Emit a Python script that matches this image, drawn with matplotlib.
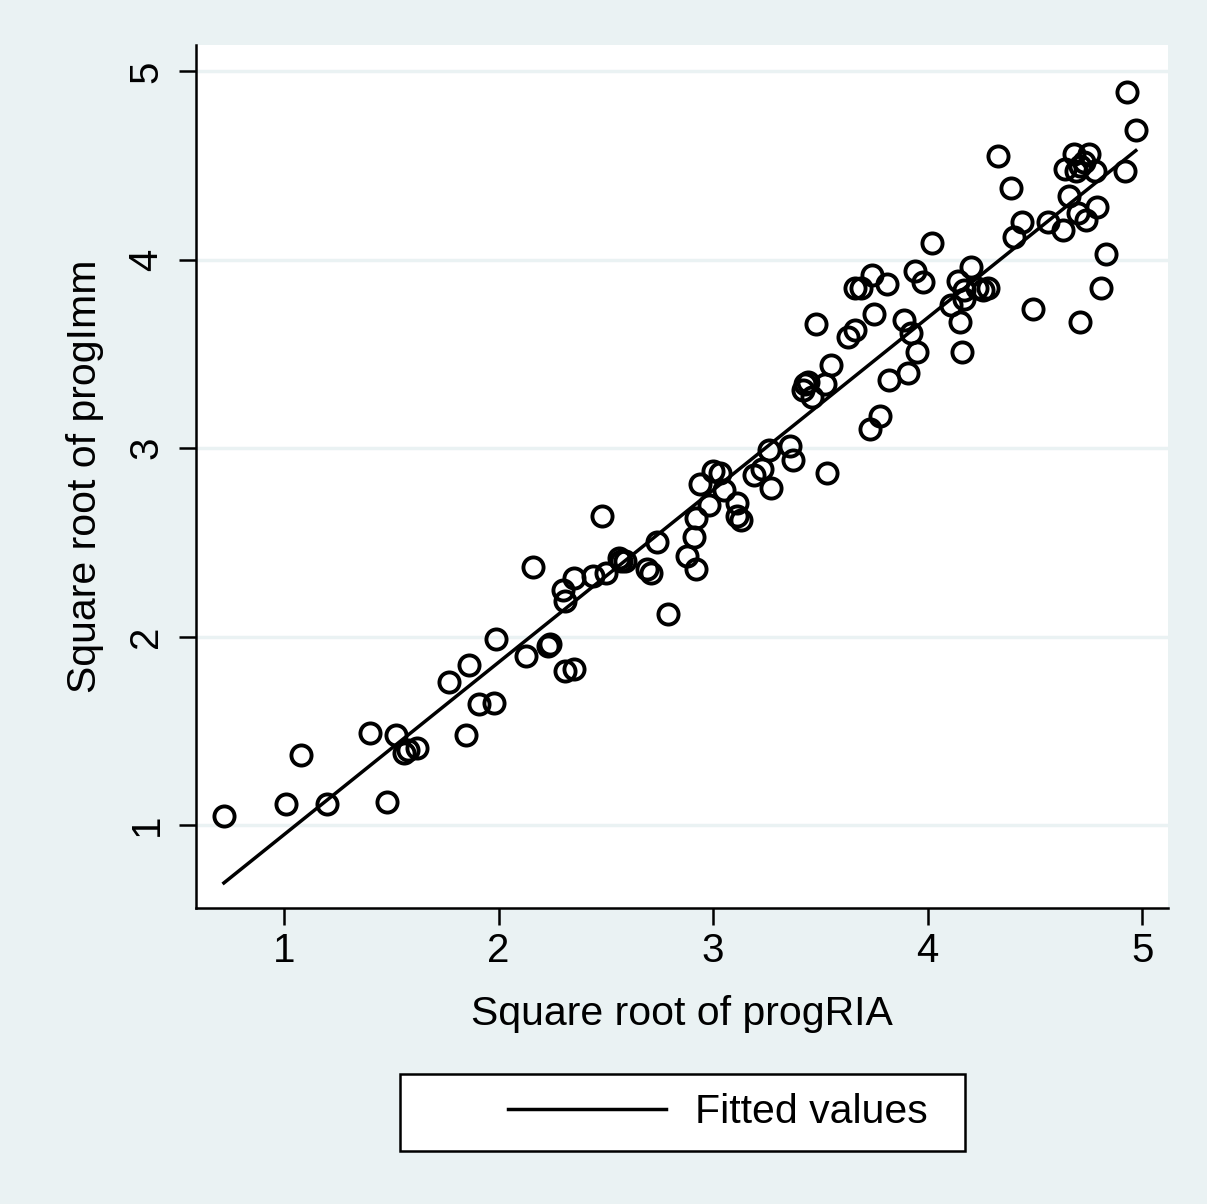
import numpy as np
import matplotlib
matplotlib.use("Agg")
import matplotlib.pyplot as plt
from matplotlib.patches import Rectangle

# square-root transformed measurements
sqrt_progRIA = [
    0.72, 1.01, 1.08, 1.20, 1.40, 1.48, 1.52, 1.56, 1.58, 1.62,
    1.77, 1.85, 1.86, 1.91, 1.98, 1.99, 2.13, 2.16, 2.23, 2.24,
    2.30, 2.31, 2.31, 2.35, 2.35, 2.44, 2.48, 2.50, 2.56, 2.57,
    2.59, 2.69, 2.71, 2.74, 2.79, 2.88, 2.91, 2.92, 2.92, 2.94,
    2.98, 3.00, 3.03, 3.05, 3.11, 3.11, 3.13, 3.19, 3.23, 3.26,
    3.27, 3.36, 3.37, 3.42, 3.43, 3.44, 3.46, 3.48, 3.52, 3.53,
    3.55, 3.63, 3.66, 3.66, 3.69, 3.73, 3.74, 3.75, 3.78, 3.81,
    3.82, 3.89, 3.91, 3.92, 3.94, 3.95, 3.98, 4.02, 4.11, 4.14,
    4.15, 4.16, 4.17, 4.17, 4.20, 4.23, 4.26, 4.28, 4.33, 4.39,
    4.40, 4.44, 4.49, 4.56, 4.63, 4.64, 4.66, 4.68, 4.69, 4.71,
    4.70, 4.71, 4.73, 4.74, 4.75, 4.78, 4.79, 4.81, 4.83, 4.92,
    4.93, 4.97,
]
sqrt_progImm = [
    1.05, 1.11, 1.37, 1.11, 1.49, 1.12, 1.48, 1.38, 1.40, 1.41,
    1.76, 1.48, 1.85, 1.64, 1.65, 1.99, 1.90, 2.37, 1.95, 1.96,
    2.25, 2.19, 1.82, 1.83, 2.31, 2.32, 2.64, 2.34, 2.42, 2.40,
    2.40, 2.36, 2.34, 2.50, 2.12, 2.43, 2.53, 2.36, 2.63, 2.81,
    2.70, 2.88, 2.87, 2.78, 2.71, 2.64, 2.62, 2.86, 2.89, 2.99,
    2.79, 3.01, 2.94, 3.31, 3.34, 3.35, 3.27, 3.66, 3.34, 2.87,
    3.44, 3.59, 3.63, 3.85, 3.85, 3.10, 3.92, 3.71, 3.17, 3.87,
    3.36, 3.68, 3.40, 3.61, 3.94, 3.51, 3.88, 4.09, 3.76, 3.89,
    3.67, 3.51, 3.79, 3.84, 3.96, 3.85, 3.84, 3.85, 4.55, 4.38,
    4.12, 4.20, 3.74, 4.20, 4.16, 4.48, 4.34, 4.56, 4.47, 3.67,
    4.25, 4.50, 4.52, 4.21, 4.56, 4.47, 4.28, 3.85, 4.03, 4.47,
    4.89, 4.69,
]
xticks = [1, 2, 3, 4, 5]
yticks = [1, 2, 3, 4, 5]

bg = "#eaf2f3"
plt.rcParams['font.family'] = ['Liberation Sans', 'DejaVu Sans']
W, H = 1207, 1204

x = np.array(sqrt_progRIA)
y = np.array(sqrt_progImm)
b, a = np.polyfit(x, y, 1)
xs = np.sort(x)

fig = plt.figure(figsize=(W / 100, H / 100), dpi=100, facecolor=bg)
ax = fig.add_axes([196 / W, 1 - 908 / H, (1168 - 196) / W, (908 - 45) / H])
ax.set_facecolor("white")

for t in yticks:
    ax.axhline(t, color=bg, lw=2.5, zorder=0)

ax.plot(x, y, 'o', ms=14.5, mfc='none', mec='black', mew=2.8, zorder=3)
fit, = ax.plot(xs, a + b * xs, color='black', lw=2.5, zorder=2, label='Fitted values')

ax.set_xlim(0.59, 5.12)
ax.set_ylim(0.56, 5.14)
ax.set_xticks(xticks)
ax.set_yticks(yticks)
ax.tick_params(length=12, width=1.8, labelsize=29)
ax.tick_params(axis='x', pad=5)
ax.tick_params(axis='y', pad=10)
for lab in ax.get_yticklabels():
    lab.set_rotation(90)
    lab.set_va('center')
for s in ['top', 'right']:
    ax.spines[s].set_visible(False)
for s in ['left', 'bottom']:
    ax.spines[s].set_linewidth(1.8)

ax.set_xlabel('Square root of progRIA', fontsize=29.5, labelpad=18)
ax.set_ylabel('Square root of progImm', fontsize=29.5, labelpad=17)

# legend frame drawn separately so the key can sit right of centre
fig.patches.append(Rectangle((400 / W, 1 - 1151 / H), (965 - 400) / W, (1151 - 1074) / H,
                             transform=fig.transFigure, facecolor='white',
                             edgecolor='black', lw=1.8, zorder=1))
leg = fig.legend(handles=[fit], loc='center', bbox_to_anchor=(718 / W, 1 - 1112 / H),
                 fontsize=29.5, frameon=False, handlelength=3.85, handletextpad=0.73,
                 borderpad=0, borderaxespad=0)
leg.set_zorder(2)

fig.savefig('out.png', dpi=100, facecolor=bg)
